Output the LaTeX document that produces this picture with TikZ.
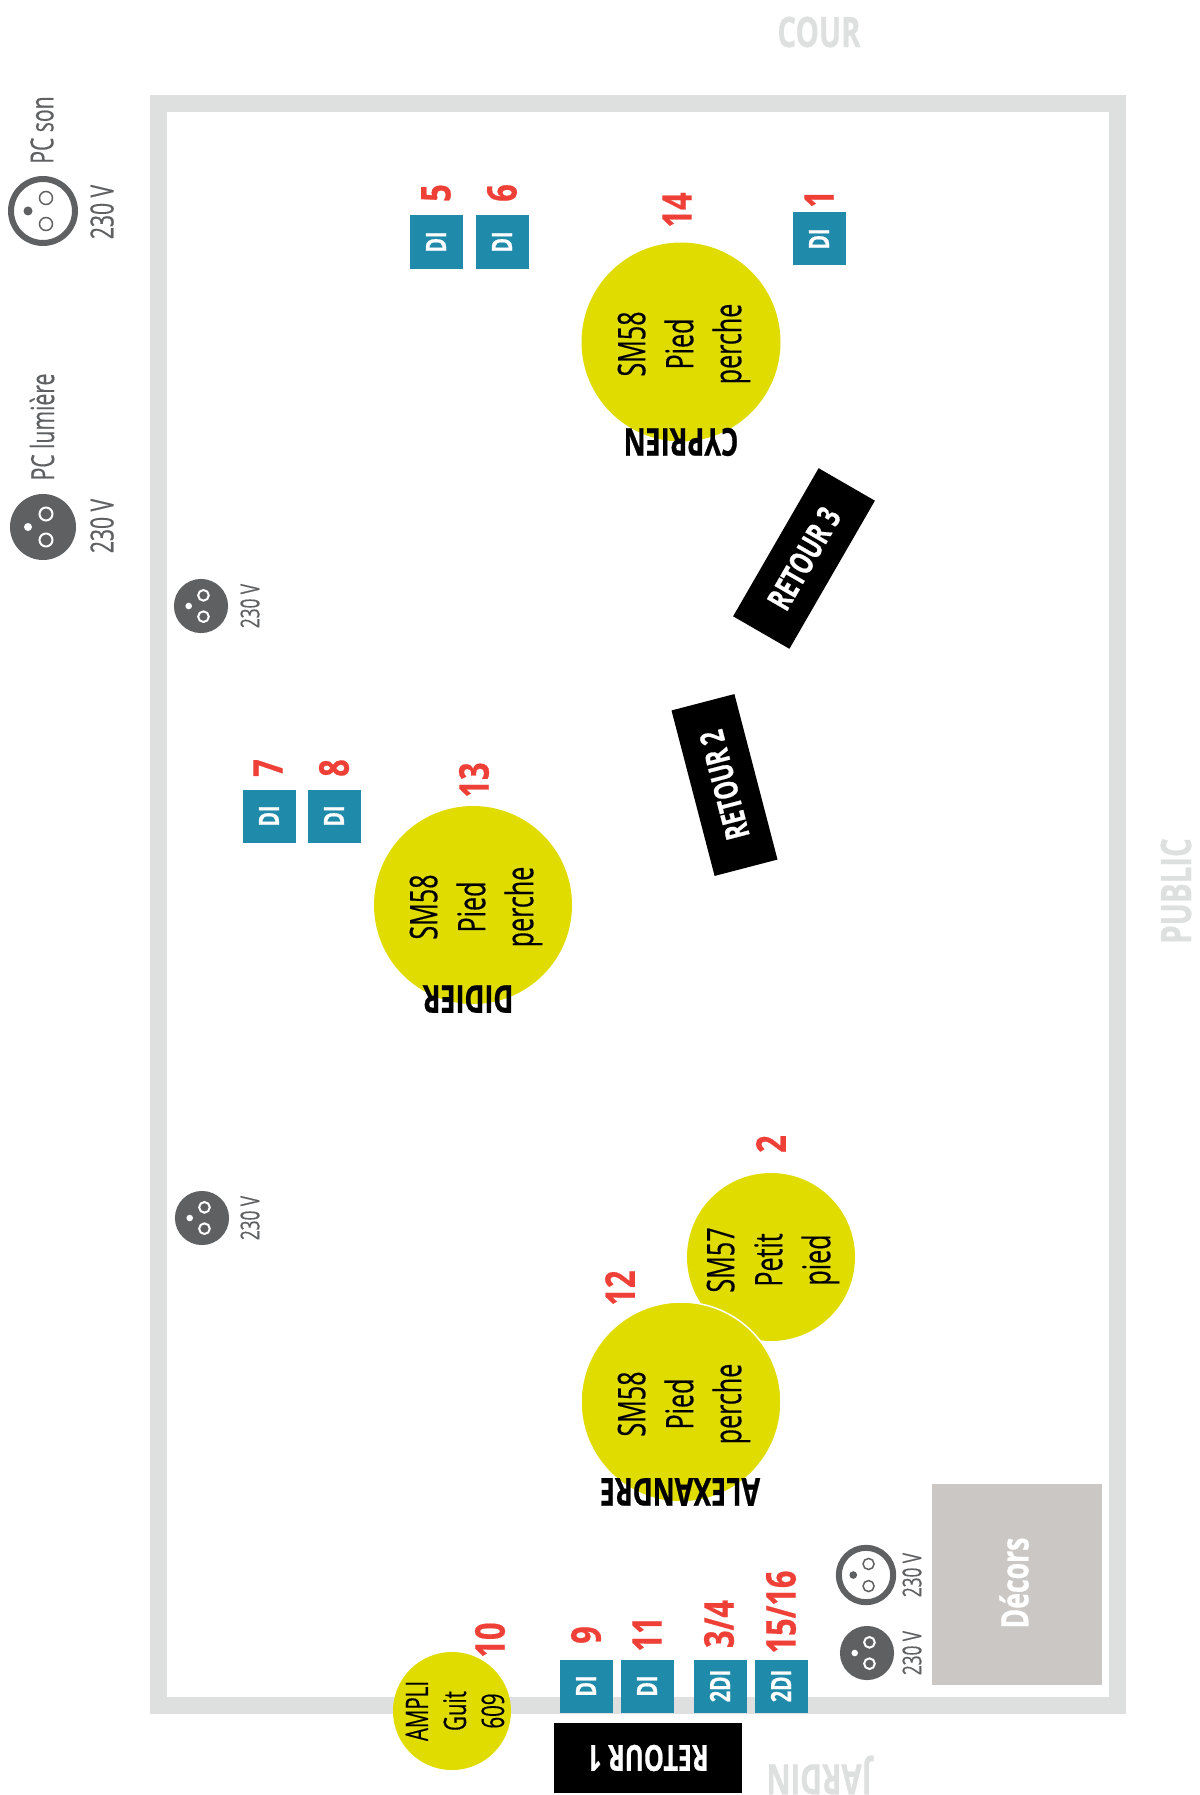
\documentclass[tikz,border=0pt]{standalone}
\usepackage{fontspec}
\setmainfont[FakeStretch=0.66,UprightFeatures={FakeBold=0.4}]{Open Sans}
\newfontfamily\heavyfont[FakeStretch=0.7,BoldFeatures={FakeBold=0.6}]{Open Sans}
\newfontfamily\numfont[FakeStretch=0.75,BoldFeatures={FakeBold=0.5}]{Open Sans}
\usepackage{xcolor}
\definecolor{frameGrey}{HTML}{DEDFDF}
\definecolor{plugGrey}{HTML}{5F6062}
\definecolor{decorGrey}{HTML}{CBC7C4}
\definecolor{micYellow}{HTML}{E0DC00}
\definecolor{diTeal}{HTML}{1F8AAA}
\definecolor{numRed}{HTML}{EE4036}

\begin{document}
\begin{tikzpicture}[x=1pt,y=-1pt,
  side/.style={text=frameGrey,font=\fontsize{42}{42}\heavyfont\bfseries},
  info/.style={text=plugGrey,rotate=90,font=\fontsize{32}{32}\selectfont},
  infosmall/.style={text=plugGrey,rotate=90,font=\fontsize{26}{26}\selectfont},
  mic/.style={circle,fill=micYellow,inner sep=0pt},
  miclines/.style={rotate=90,align=center,text=black,font=\fontsize{38}{48}\selectfont},
  who/.style={rotate=180,text=black,font=\fontsize{38.5}{39}\heavyfont\bfseries},
  num/.style={rotate=90,text=numRed,font=\fontsize{41}{41}\numfont\bfseries},
  dibox/.style={fill=diTeal,minimum width=53pt,minimum height=53pt,inner sep=0pt,rotate=90,text=white,font=\fontsize{28}{28}\heavyfont\bfseries},
  retour/.style={fill=black,minimum width=171pt,minimum height=65pt,inner sep=0pt,text=white,font=\fontsize{33}{33}\heavyfont\bfseries},
  plugfull/.pic={
    \fill[plugGrey] (0,0) circle (33);
    \fill[white] (-15,0) circle (4);
    \draw[white,line width=2pt] (3,-13) circle (6.5);
    \draw[white,line width=2pt] (3,13) circle (6.5);
  },
  plugempty/.pic={
    \draw[plugGrey,line width=6pt] (0,0) circle (32);
    \fill[plugGrey] (-15,0) circle (4.5);
    \draw[plugGrey,line width=1.5pt] (3,-13) circle (6.5);
    \draw[plugGrey,line width=1.5pt] (3,13) circle (6.5);
  }
]
\useasboundingbox (0,0) rectangle (1199,1795);
% stage
\draw[frameGrey,line width=17pt] (158,103.5) rectangle (1117,1705.5);
\node[side] (cour) at (819,32) {COUR};
\node[side,rotate=90] (public) at (1176,891) {PUBLIC};
\node[side,rotate=180] (jardin) at (819,1775) {JARDIN};
\node[fill=decorGrey,minimum width=170pt,minimum height=201pt,inner sep=0pt] (decors) at (1017,1584.5) {};
\node[rotate=90,text=white,font=\fontsize{38}{38}\heavyfont\bfseries] (decorstext) at (1014,1583) {Décors};
% power
\pic at (43,211) {plugempty};
\pic at (43,527) {plugfull};
\pic[scale=0.82] at (201,606) {plugfull};
\pic[scale=0.82] at (202,1218) {plugfull};
\pic[scale=0.82] at (867,1653) {plugfull};
\pic[scale=0.85] at (866,1575) {plugempty};
\node[info] (pcson) at (42,130) {PC son};
\node[info] (pclum) at (42,427) {PC lumière};
\node[info] (vson) at (102,212) {230 V};
\node[info] (vlum) at (102,526) {230 V};
\node[infosmall] (v1) at (250,606) {230 V};
\node[infosmall] (v2) at (250,1218) {230 V};
\node[infosmall] (v3) at (912,1653) {230 V};
\node[infosmall] (v4) at (912,1575) {230 V};
% mics
\node[mic,minimum size=199pt] (cyprien) at (681,342) {};
\node[mic,minimum size=198pt] (didier) at (473,905) {};
\node[mic,minimum size=168pt] (sm57) at (771,1257) {};
\node[mic,draw=white,line width=1.5pt,minimum size=200pt] (alexandre) at (681,1402) {};
\node[mic,minimum size=118pt] (ampli) at (452,1711) {};
\node[miclines] (cyprienmic) at (684,344) {SM58\\Pied\\perche};
\node[miclines] (didiermic) at (476,907) {SM58\\Pied\\perche};
\node[miclines] (alexmic) at (684,1404) {SM58\\Pied\\perche};
\node[miclines] (sm57mic) at (773,1260) {SM57\\Petit\\pied};
\node[miclines,font=\fontsize{31}{38}\selectfont] (amplimic) at (455,1711) {AMPLI\\Guit\\609};
\node[who] (cyprienname) at (681,442) {CYPRIEN};
\node[who] (didiername) at (468,999) {DIDIER};
\node[who] (alexname) at (680,1492) {ALEXANDRE};
% DI
\node[dibox] (di5) at (436,242) {DI};
\node[dibox] (di6) at (502,242) {DI};
\node[dibox] (di1) at (819,239) {DI};
\node[dibox] (di7) at (269,816) {DI};
\node[dibox] (di8) at (334,816) {DI};
\node[dibox] (di9) at (586,1686) {DI};
\node[dibox] (di11) at (647,1686) {DI};
\node[dibox] (di34) at (720,1686) {2DI};
\node[dibox] (di1516) at (781,1686) {2DI};
% numbers
\node[num] (n5) at (436,193) {5};
\node[num] (n6) at (502,193) {6};
\node[num] (n1) at (819,199) {1};
\node[num] (n14) at (677,210) {14};
\node[num] (n7) at (268,768) {7};
\node[num] (n8) at (334,768) {8};
\node[num] (n13) at (474,780) {13};
\node[num] (n2) at (771,1144) {2};
\node[num] (n12) at (620,1288) {12};
\node[num] (n10) at (490,1640) {10};
\node[num] (n9) at (586,1635) {9};
\node[num] (n11) at (647,1634) {11};
\node[num] (n34) at (719,1624) {3/4};
\node[num] (n1516) at (781,1612) {15/16};
% monitors
\node[retour,rotate=180,minimum width=188pt,minimum height=70pt,font=\fontsize{36}{36}\heavyfont\bfseries] (retour1) at (648,1758) {RETOUR 1};
\node[retour,rotate=104.6] (retour2) at (724.5,785) {RETOUR 2};
\node[retour,rotate=60] (retour3) at (804,558.5) {RETOUR 3};
\end{tikzpicture}
\end{document}
